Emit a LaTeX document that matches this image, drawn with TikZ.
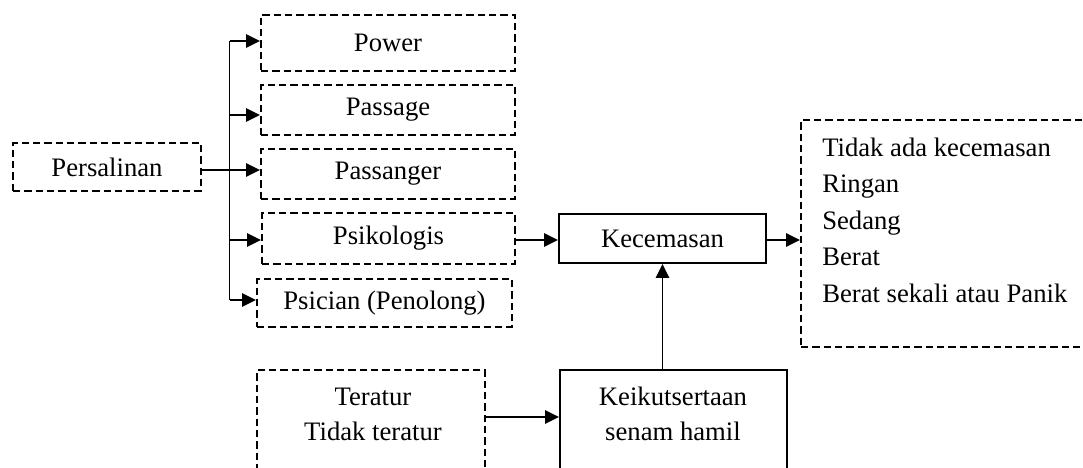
\documentclass[tikz,border=0pt]{standalone}
\usepackage{fontspec}
\setmainfont{Liberation Serif}
\usetikzlibrary{arrows.meta}
\begin{document}
\begin{tikzpicture}[x=0.75pt,y=-0.75pt,
  font=\fontsize{20pt}{24pt}\selectfont,
  lw/.style={line width=1.4pt},
  dbox/.style={draw,lw,dash pattern=on 5.5pt off 3pt,inner sep=0pt},
  sbox/.style={draw,lw,inner sep=0pt},
  plain/.style={lw},
  arr/.style={lw,-{Triangle[length=10.5pt,width=10pt]}},
  txt/.style={inner sep=0pt}]
\useasboundingbox (0,0) rectangle (1083,468);
\clip (0,0) rectangle (1083,468);
% boxes
\node[dbox,minimum width=141pt,minimum height=36pt] (pers) at (107,167) {Persalinan};
\node[dbox,minimum width=190.5pt,minimum height=42pt] (power) at (388,43) {Power};
\node[dbox,minimum width=190.5pt,minimum height=37.5pt] (passage) at (388,110) {Passage};
\node[dbox,minimum width=190.5pt,minimum height=37.5pt] (passanger) at (388,174) {Passanger};
\node[dbox,minimum width=189.75pt,minimum height=38.25pt] (psiko) at (388.5,238.5) {Psikologis};
\node[dbox,minimum width=191.25pt,minimum height=36pt] (psician) at (384.5,303) {Psician (Penolong)};
\node[sbox,minimum width=155.25pt,minimum height=36.75pt] (kec) at (662.5,238.5) {Kecemasan};
\node[dbox,minimum width=224.25pt,minimum height=170.25pt] (hasil) at (950.5,233.5) {};
\node[txt,anchor=west,align=left,font=\fontsize{20pt}{27.4pt}\selectfont] (hasiltxt) at (822,220)
  {Tidak ada kecemasan\\Ringan\\Sedang\\Berat\\Berat sekali atau Panik};
\node[dbox,minimum width=171pt,minimum height=97.5pt] (teratur) at (371,435) {};
\node[txt,align=center,font=\fontsize{20pt}{26.25pt}\selectfont] (teraturtxt) at (373,414) {Teratur\\Tidak teratur};
\node[sbox,minimum width=170.25pt,minimum height=97.5pt] (senam) at (673.5,435) {};
\node[txt,align=center,font=\fontsize{20pt}{26.25pt}\selectfont] (senamtxt) at (673,414) {Keikutsertaan\\senam hamil};
% trunk
\coordinate (jt) at (229.5,41);
\coordinate (jpa) at (229.5,115);
\coordinate (jm) at (229.5,170);
\coordinate (jps) at (229.5,240);
\coordinate (jb) at (229.5,300);
\draw[plain] (pers.east |- jm) -- (jm);
\draw[plain] (jt) -- (jb);
\draw[arr] (jt) -- (power.west |- jt);
\draw[arr] (jpa) -- (passage.west |- jpa);
\draw[arr] (jm) -- (passanger.west |- jm);
\draw[arr] (jps) -- (psiko.west |- jps);
\draw[arr] (jb) -- (psician.west |- jb);
% right side
\draw[arr] (psiko.east |- jps) -- (kec.west |- jps);
\draw[arr] (kec.east |- jps) -- (hasil.west |- jps);
\draw[arr] (senam.north -| kec.south) -- (kec.south);
\coordinate (jl) at (0,417);
\draw[arr] (teratur.east |- jl) -- (senam.west |- jl);
\end{tikzpicture}
\end{document}
